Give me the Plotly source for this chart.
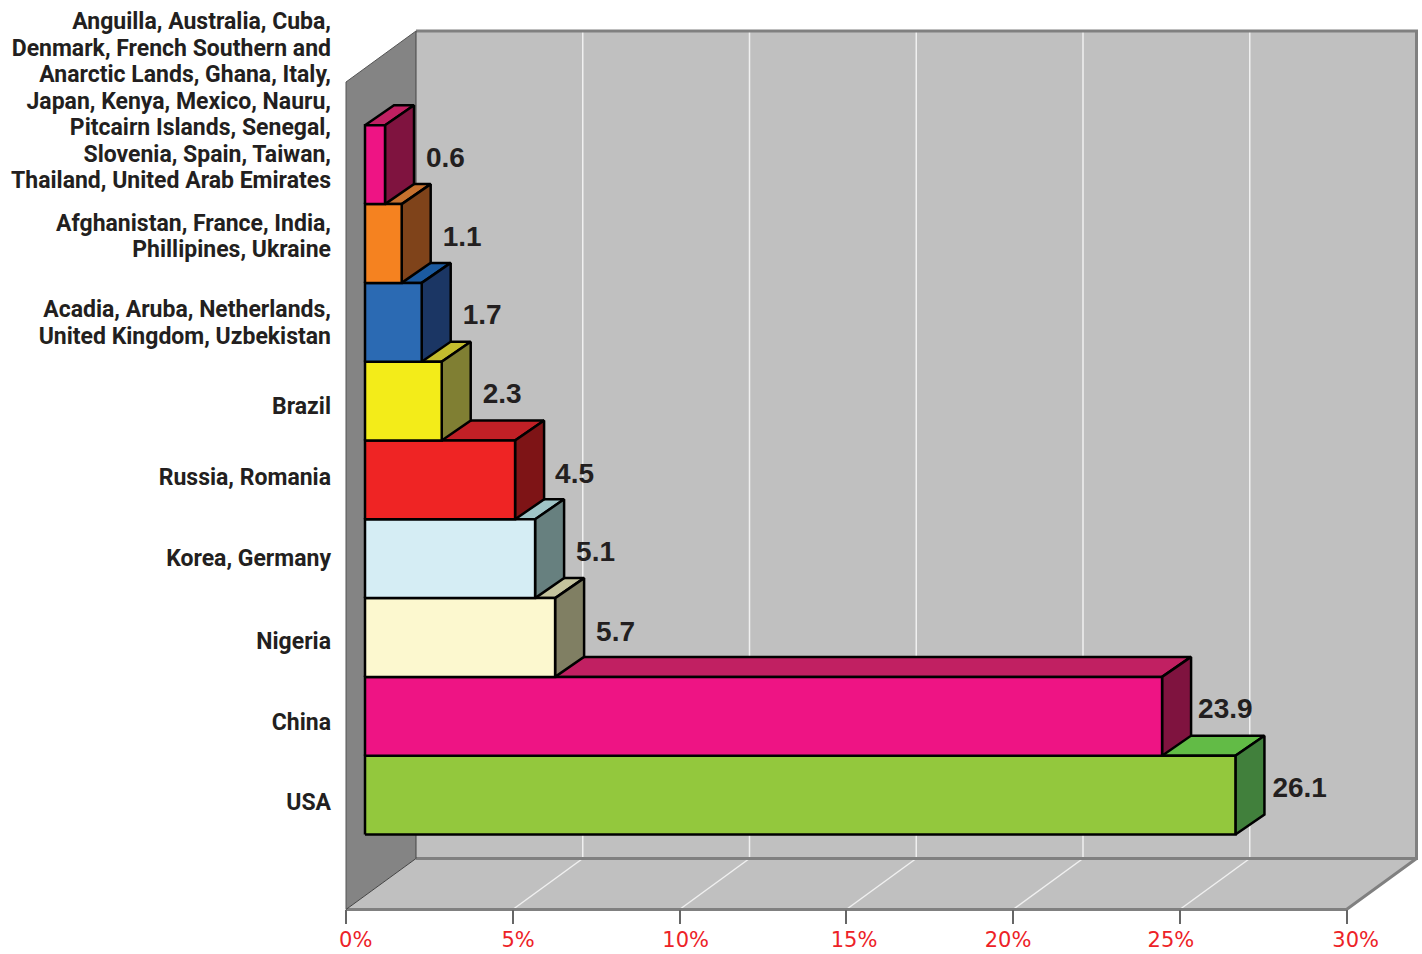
import plotly.graph_objects as go

# ---- data (bottom to top) ----
values = [26.1, 23.9, 5.7, 5.1, 4.5, 2.3, 1.7, 1.1, 0.6]
value_labels = ["26.1", "23.9", "5.7", "5.1", "4.5", "2.3", "1.7", "1.1", "0.6"]
category_lines = [
    ["USA"],
    ["China"],
    ["Nigeria"],
    ["Korea, Germany"],
    ["Russia, Romania"],
    ["Brazil"],
    ["Acadia, Aruba, Netherlands,", "United Kingdom, Uzbekistan"],
    ["Afghanistan, France, India,", "Phillipines, Ukraine"],
    ["Anguilla, Australia, Cuba,", "Denmark, French Southern and", "Anarctic Lands, Ghana, Italy,",
     "Japan, Kenya, Mexico, Nauru,", "Pitcairn Islands, Senegal,", "Slovenia, Spain, Taiwan,",
     "Thailand, United Arab Emirates"],
]
front_colors = ["#93c83d", "#ee1484", "#fcf8cf", "#d5edf4", "#ef2424", "#f3ec19", "#2b6ab3", "#f58220", "#ee1484"]
side_colors = ["#41803c", "#7f133f", "#807f63", "#67807f", "#7e1416", "#807f33", "#1b3664", "#7f431a", "#7f133f"]
top_colors = ["#62bb46", "#c12062", "#c4c39d", "#9fc4c6", "#c12026", "#c4bd2e", "#1b5aa0", "#c6702e", "#c12062"]
tick_values = [0, 5, 10, 15, 20, 25, 30]
tick_labels = ["0%", "5%", "10%", "15%", "20%", "25%", "30%"]

# ---- layout geometry (pixels of the page) ----
W, H = 1422, 954
X0_PX, PX_PER_PCT = 346.0, 33.35     # x axis: 0 % position, scale
Y0_PX, PX_PER_BAND = 834.5, 78.8     # y axis: bottom of first bar, band height
WALL_DX, WALL_DY = 70 / PX_PER_PCT, 51 / PX_PER_BAND    # depth of the room
BAR_DX, BAR_DY = 29 / PX_PER_PCT, 20 / PX_PER_BAND      # depth of a bar
BAR_START = 19 / PX_PER_PCT
FLOOR = -75 / PX_PER_BAND
WALL_TOP = (Y0_PX - 82) / PX_PER_BAND
XMAX = 30

label_x = (331 - X0_PX) / PX_PER_PCT
label_line_px = 26.5
label_shift_px = [9.5, 7.5, 5.5, 1.5, -0.5, 7.5, 2.5, -5.5, -61.5]
value_shift_px = [-5.5, -5.5, -4, -5, -4, -5, -5, -5, -5]
tick_shift_px = [9.7, 5.3, 6.2, 7.8, -5, -8.8, 9.2]
value_gap_px = [37, 36, 41, 41, 40, 41, 41, 41, 41]
GREY = "#808080"
WALL = "#c0c0c0"

fig = go.Figure()


def poly(xs, ys, fill, line=None, width=0):
    fig.add_trace(go.Scatter(
        x=xs + xs[:1], y=ys + ys[:1], mode="lines", fill="toself", fillcolor=fill,
        line=dict(color=line or fill, width=width), hoverinfo="skip", showlegend=False))


def seg(xs, ys, color, width):
    fig.add_trace(go.Scatter(x=xs, y=ys, mode="lines", line=dict(color=color, width=width),
                             hoverinfo="skip", showlegend=False))


# room
poly([WALL_DX, XMAX + WALL_DX, XMAX + WALL_DX, WALL_DX],
     [FLOOR + WALL_DY, FLOOR + WALL_DY, WALL_TOP + WALL_DY, WALL_TOP + WALL_DY], WALL)
poly([0, XMAX, XMAX + WALL_DX, WALL_DX], [FLOOR, FLOOR, FLOOR + WALL_DY, FLOOR + WALL_DY], WALL)
poly([0, WALL_DX, WALL_DX, 0], [FLOOR, FLOOR + WALL_DY, WALL_TOP + WALL_DY, WALL_TOP], "#848484")
for t in tick_values[1:-1]:
    seg([t + WALL_DX, t + WALL_DX], [FLOOR + WALL_DY, WALL_TOP + WALL_DY], "#f0f0f0", 1.5)
    seg([t, t + WALL_DX], [FLOOR, FLOOR + WALL_DY], "#f0f0f0", 1.5)
seg([WALL_DX, XMAX + WALL_DX, XMAX + WALL_DX, WALL_DX],
    [WALL_TOP + WALL_DY, WALL_TOP + WALL_DY, FLOOR + WALL_DY, FLOOR + WALL_DY], GREY, 3)
seg([0, XMAX, XMAX + WALL_DX], [FLOOR, FLOOR, FLOOR + WALL_DY], GREY, 3)
seg([0, WALL_DX, WALL_DX], [FLOOR, FLOOR + WALL_DY, WALL_TOP + WALL_DY], "#444444", 1)
seg([WALL_DX, 0, 0], [WALL_TOP + WALL_DY, WALL_TOP, FLOOR], "#555555", 1)

# bars
for i, v in enumerate(values):
    x0, x1 = BAR_START, BAR_START + v
    y0, y1 = i, i + 1
    poly([x0, x1, x1 + BAR_DX, x0 + BAR_DX], [y1, y1, y1 + BAR_DY, y1 + BAR_DY], top_colors[i], "#000000", 2.5)
    poly([x1, x1 + BAR_DX, x1 + BAR_DX, x1], [y0, y0 + BAR_DY, y1 + BAR_DY, y1], side_colors[i], "#000000", 2.5)
    poly([x0, x1, x1, x0], [y0, y0, y1, y1], front_colors[i], "#000000", 2.5)

# value labels
fig.add_trace(go.Scatter(
    x=[BAR_START + v + g / PX_PER_PCT for v, g in zip(values, value_gap_px)],
    y=[i + 0.5 - s / PX_PER_BAND for i, s in enumerate(value_shift_px)],
    mode="text", text=value_labels, textposition="middle right",
    textfont=dict(family="Liberation Sans", size=28, color="#231f20", weight="bold"),
    hoverinfo="skip", showlegend=False))

# category labels, one text per line
lx, ly, lt = [], [], []
for i, lines in enumerate(category_lines):
    centre = i + 0.5 - label_shift_px[i] / PX_PER_BAND
    for k, line in enumerate(lines):
        lx.append(label_x)
        ly.append(centre - (k - (len(lines) - 1) / 2) * label_line_px / PX_PER_BAND)
        lt.append(line)
fig.add_trace(go.Scatter(
    x=lx, y=ly, mode="text", text=lt, textposition="middle left",
    textfont=dict(family="Roboto", size=23, color="#231f20", weight="bold"),
    hoverinfo="skip", showlegend=False))

# x tick labels
fig.add_trace(go.Scatter(
    x=[t + s / PX_PER_PCT for t, s in zip(tick_values, tick_shift_px)],
    y=[FLOOR - 32 / PX_PER_BAND] * len(tick_values),
    mode="text", text=tick_labels, textposition="middle center",
    textfont=dict(family="DejaVu Sans", size=21, color="#ed2227"),
    hoverinfo="skip", showlegend=False))

fig.update_layout(
    width=W, height=H, margin=dict(l=0, r=0, t=0, b=0),
    paper_bgcolor="white", plot_bgcolor="white", showlegend=False,
    xaxis=dict(range=[-X0_PX / PX_PER_PCT, (W - X0_PX) / PX_PER_PCT], showgrid=False, zeroline=False,
               showline=False, tickmode="array", tickvals=tick_values, ticktext=tick_labels,
               showticklabels=False, ticks="outside", ticklen=14, tickwidth=1.5, tickcolor="#666666",
               anchor="free", position=1 - 909 / H, fixedrange=True),
    yaxis=dict(range=[(Y0_PX - H) / PX_PER_BAND, Y0_PX / PX_PER_BAND], showgrid=False, zeroline=False,
               showline=False, showticklabels=False, ticks="", fixedrange=True),
)
fig.write_html("out.html", config={"displayModeBar": False},
               post_script="document.body.style.margin='0';document.documentElement.style.overflow='hidden';")
